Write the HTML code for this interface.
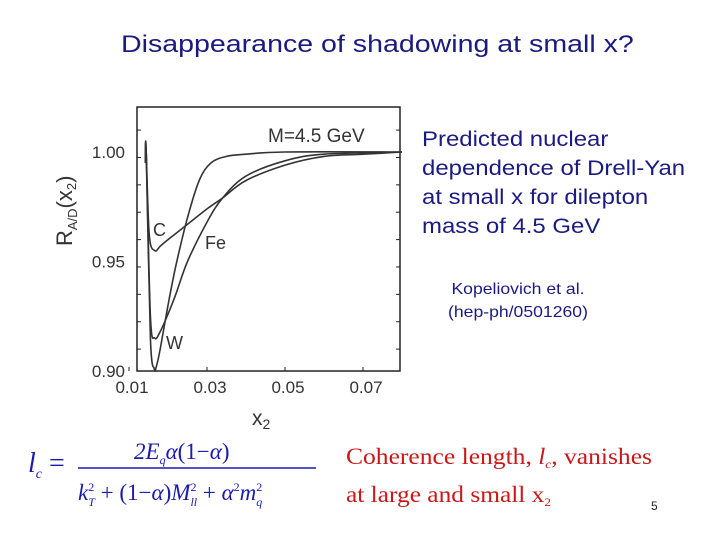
<!DOCTYPE html>
<html><head><meta charset="utf-8"><style>
body{margin:0;width:720px;height:540px;background:#fff;overflow:hidden;position:relative;font-family:"Liberation Sans",sans-serif}
.t{position:absolute;white-space:nowrap;transform-origin:0 0}
</style></head><body>
<div class="t" style="left:121px;top:31px;font-size:24px;color:#1a1a80;transform:scaleX(1.19)">Disappearance of shadowing at small x?</div>
<div class="t" style="left:422px;top:125px;font-size:21px;line-height:29px;color:#1a1a80;transform:scaleX(1.14)">Predicted nuclear<br>dependence of Drell-Yan<br>at small x for dilepton<br>mass of 4.5 GeV</div>
<div class="t" style="left:448px;top:278px;font-size:16px;line-height:23px;color:#1a1a80;text-align:center;transform:scaleX(1.1)">Kopeliovich et al.<br>(hep-ph/0501260)</div>
<svg id="chart" width="720" height="540" style="position:absolute;left:0;top:0">
<g id="g"></g>
<g font-family="Liberation Serif,serif" font-style="italic" fill="#1a1ab0">
<text x="28" y="472" font-size="28">l<tspan font-size="14" dy="6">c</tspan><tspan dy="-6" font-style="normal"> =</tspan></text>
<text x="134" y="459" font-size="23">2E<tspan font-size="12" dy="5">q</tspan><tspan dy="-5">α</tspan><tspan font-style="normal">(1−</tspan>α<tspan font-style="normal">)</tspan></text>
<line x1="78" y1="468" x2="316" y2="468" stroke="#1a1ab0" stroke-width="1.5"/>
<text x="78" y="500" font-size="23">k<tspan font-size="12" dy="-9" font-style="normal">2</tspan><tspan font-size="12" dx="-6" dy="15">T</tspan><tspan dy="-6" font-style="normal"> + (1−</tspan>α<tspan font-style="normal">)</tspan>M<tspan font-size="12" dy="-9" font-style="normal">2</tspan><tspan font-size="12" dx="-6" dy="15">ll</tspan><tspan dy="-6" font-style="normal"> + </tspan>α<tspan font-size="12" dy="-9" font-style="normal">2</tspan><tspan dy="9">m</tspan><tspan font-size="12" dy="-9" font-style="normal">2</tspan><tspan font-size="12" dx="-6" dy="15">q</tspan></text>
</g>
<g font-family="Liberation Serif,serif" fill="#c81818" font-size="23">
<text x="346" y="464" textLength="306" lengthAdjust="spacingAndGlyphs">Coherence length, <tspan font-style="italic">l</tspan><tspan font-size="12" dy="4" font-style="italic">c</tspan><tspan dy="-4">,  vanishes</tspan></text>
<text x="346" y="502" textLength="205" lengthAdjust="spacingAndGlyphs">at large and small x<tspan font-size="12" dy="4">2</tspan></text>
</g>
<text x="651" y="510" font-size="12" font-family="Liberation Sans,sans-serif" fill="#222">5</text>
</svg>
<script>
const xTicks=[0.01,0.03,0.05,0.07];
const yTicks=[0.90,0.95,1.00];
const cX=[0.0142,0.0144,0.0152,0.0166,0.018,0.02,0.025,0.03,0.034,0.04,0.05,0.06,0.07,0.08];
const cY=[0.995,1.0,0.962,0.955,0.957,0.960,0.967,0.974,0.979,0.987,0.994,0.998,0.999,1.0];
const feX=[0.0142,0.0144,0.0155,0.0166,0.018,0.02,0.022,0.025,0.03,0.034,0.04,0.05,0.06,0.08];
const feY=[0.995,1.0,0.925,0.915,0.918,0.926,0.935,0.950,0.968,0.979,0.989,0.996,0.999,1.0];
const wX=[0.0142,0.0144,0.0155,0.0165,0.017,0.018,0.02,0.022,0.025,0.028,0.031,0.035,0.04,0.05,0.08];
const wY=[0.995,1.0,0.915,0.901,0.902,0.910,0.930,0.948,0.970,0.987,0.995,0.998,0.999,1.0,1.0];
const L=137,R=400,T=107,B=371;
const sx=v=>129+(v-0.01)*3900;
const sy=v=>152+(1.0-v)*2190;
const ns='http://www.w3.org/2000/svg';
const g=document.getElementById('g');
function mk(t,a){const e=document.createElementNS(ns,t);for(const k in a)e.setAttribute(k,a[k]);g.appendChild(e);return e;}
let e=mk('rect',{x:L,y:T,width:R-L,height:B-T,fill:'none',stroke:'#222','stroke-width':1.5});


for(let v=0.885;v<=1.026;v+=0.0125){const y=sy(v);if(y<T||y>B)continue;mk('line',{x1:L,y1:y,x2:L+4,y2:y,stroke:'#222'});mk('line',{x1:R-4,y1:y,x2:R,y2:y,stroke:'#222'});}
yTicks.forEach(v=>{const t=mk('text',{x:125,y:sy(v)+6,'text-anchor':'end','font-size':17,fill:'#333'});t.textContent=v.toFixed(2);

});
xTicks.forEach(v=>{const t=mk('text',{x:sx(v)+3,y:393,'text-anchor':'middle','font-size':17,fill:'#333'});t.textContent=v.toFixed(2);


mk('line',{x1:sx(v),y1:B,x2:sx(v),y2:B-4,stroke:'#222'});});
function line(xs,ys,name){const P=xs.map((x,i)=>[sx(x),sy(ys[i])]);
let d='M'+P[0][0].toFixed(1)+','+P[0][1].toFixed(1);
for(let i=0;i<P.length-1;i++){const p0=P[Math.max(0,i-1)],p1=P[i],p2=P[i+1],p3=P[Math.min(P.length-1,i+2)];
const c1=[p1[0]+(p2[0]-p0[0])/6,p1[1]+(p2[1]-p0[1])/6],c2=[p2[0]-(p3[0]-p1[0])/6,p2[1]-(p3[1]-p1[1])/6];
d+=' C'+c1.map(v=>v.toFixed(1)).join(',')+' '+c2.map(v=>v.toFixed(1)).join(',')+' '+p2.map(v=>v.toFixed(1)).join(',');}
const p=mk('path',{d:d,fill:'none',stroke:'#333','stroke-width':1.6,'stroke-linejoin':'round'});

}
line(cX,cY,'series-c');line(feX,feY,'series-fe');line(wX,wY,'series-w');
function lab(x,y,s,name,fs){const t=mk('text',{x:x,y:y,'font-size':fs||18,fill:'#333'});t.textContent=s;

return t;}
lab(153,236,'C','label-c');lab(205,249,'Fe','label-fe');lab(166,349,'W','label-w');
lab(268,142,'M=4.5  GeV','label-mass',19);
lab(252,425,'x','x-axis-title',21).innerHTML='x<tspan font-size="14" dy="4">2</tspan>';
const yt=mk('text',{x:0,y:0,'font-size':22,fill:'#333',transform:'translate(72,246) rotate(-90)'});
yt.innerHTML='R<tspan font-size="13" dy="5">A/D</tspan><tspan dy="-5">(x</tspan><tspan font-size="13" dy="4">2</tspan><tspan dy="-4">)</tspan>';


</script>
</body></html>
